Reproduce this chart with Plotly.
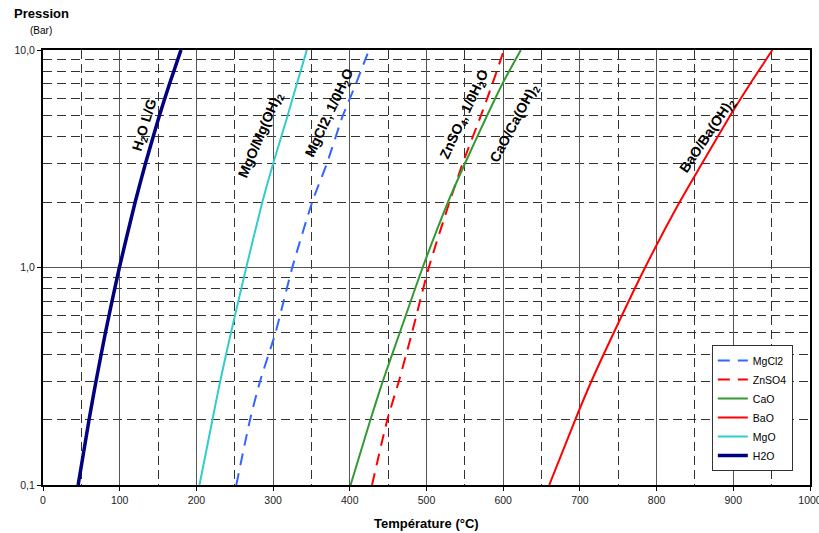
import plotly.graph_objects as go

# Pressure levels (bar)
p_h2o = [0.1, 0.2, 0.3, 0.5, 0.7, 1, 2, 3, 5, 7, 10]
t_h2o = [45.8, 60.1, 69.1, 81.3, 90.0, 99.6, 120.2, 133.5, 151.8, 165.0, 179.9]

p_salt = [0.1, 0.2, 0.3, 0.5, 1, 2, 3, 5, 7, 10]
t_mgo = [204, 221, 231, 245, 265, 286, 300, 319, 331, 344]
t_mgcl2 = [252, 270, 283, 303, 325, 351, 370, 391, 408, 425]
t_znso4 = [429, 449, 464, 481, 503, 530, 547, 571, 586, 601]
t_cao = [401, 427, 443, 465, 495, 528, 550, 579, 599, 623]
t_bao = [660, 694, 715, 744, 785, 830, 859, 896, 922, 951]

x_ticks = list(range(0, 1001, 100))
y_major = [0.1, 1, 10]
y_major_text = ["0,1", "1,0", "10,0"]
y_minor = [0.2, 0.3, 0.4, 0.5, 0.6, 0.7, 0.8, 0.9, 2, 3, 4, 5, 6, 7, 8, 9]
x_minor = list(range(50, 1000, 100))

labels = [
    ("H<sub>2</sub>O L/G", 133, 0.655, -73),
    ("MgO/Mg(OH)<sub>2</sub>", 284, 0.609, -67),
    ("MgCl2, 1/0H<sub>2</sub>O", 374, 0.71, -65),
    ("ZnSO<sub>4</sub>, 1/0H<sub>2</sub>O", 550, 0.706, -65),
    ("CaO/Ca(OH)<sub>2</sub>", 615, 0.664, -62),
    ("BaO/Ba(OH)<sub>2</sub>", 867, 0.609, -56),
]

FONT = "Liberation Sans, Arial, sans-serif"

fig = go.Figure()
fig.add_trace(go.Scatter(x=t_mgcl2, y=p_salt, name="MgCl2", mode="lines",
                         line=dict(color="#3366FF", width=2, dash="12px,8px",
                                   shape="spline", smoothing=0.6)))
fig.add_trace(go.Scatter(x=t_znso4, y=p_salt, name="ZnSO4", mode="lines",
                         line=dict(color="#FF0000", width=2, dash="12px,8px",
                                   shape="spline", smoothing=0.6)))
fig.add_trace(go.Scatter(x=t_cao, y=p_salt, name="CaO", mode="lines",
                         line=dict(color="#339933", width=2, shape="spline", smoothing=0.6)))
fig.add_trace(go.Scatter(x=t_bao, y=p_salt, name="BaO", mode="lines",
                         line=dict(color="#FF0000", width=2, shape="spline", smoothing=0.6)))
fig.add_trace(go.Scatter(x=t_mgo, y=p_salt, name="MgO", mode="lines",
                         line=dict(color="#33CCCC", width=2, shape="spline", smoothing=0.6)))
fig.add_trace(go.Scatter(x=t_h2o, y=p_h2o, name="H2O", mode="lines",
                         line=dict(color="#000080", width=3.5, shape="spline", smoothing=0.6)))

for txt, x, ly, ang in labels:
    fig.add_annotation(x=x, y=ly, xref="x", yref="y", text="<b>%s</b>" % txt,
                       textangle=ang, showarrow=False,
                       font=dict(family=FONT, size=14, color="black"))

fig.add_annotation(x=0, y=1, xref="paper", yref="paper", xshift=-31, yshift=37,
                   xanchor="left", yanchor="middle", text="<b>Pression</b>",
                   showarrow=False, font=dict(family=FONT, size=13, color="black"))
fig.add_annotation(x=0, y=1, xref="paper", yref="paper", xshift=-15, yshift=20,
                   xanchor="left", yanchor="middle", text="(Bar)",
                   showarrow=False, font=dict(family=FONT, size=10, color="black"))
fig.add_annotation(x=0.5, y=0, xref="paper", yref="paper", yshift=-29,
                   xanchor="center", yanchor="top", text="<b>Température (°C)</b>",
                   showarrow=False, font=dict(family=FONT, size=13, color="black"))

fig.update_layout(
    width=819, height=533,
    margin=dict(l=43, r=9, t=50, b=48, autoexpand=False),
    paper_bgcolor="white", plot_bgcolor="white",
    font=dict(family=FONT, size=10.5, color="#222"),
    showlegend=True,
    legend=dict(x=0.872, y=0.322, xanchor="left", yanchor="top",
                bgcolor="white", bordercolor="#333", borderwidth=1,
                font=dict(family=FONT, size=10.5, color="black"),
                tracegroupgap=0, itemwidth=30),
    xaxis=dict(range=[0, 1000], tickvals=x_ticks, ticks="outside", ticklen=4,
               tickcolor="black", showline=True, linecolor="black", linewidth=2,
               mirror=True, showgrid=True, gridcolor="#555", gridwidth=1,
               zeroline=False, automargin=False, ticklabeloverflow="allow",
               minor=dict(tickvals=x_minor, showgrid=True, gridcolor="#333",
                          griddash="9px,5px", gridwidth=1, ticks="")),
    yaxis=dict(type="log", range=[-1, 1], tickvals=y_major, ticktext=y_major_text,
               ticks="outside", ticklen=4, tickcolor="black", showline=True,
               linecolor="black", linewidth=2, mirror=True, showgrid=True,
               gridcolor="#555", gridwidth=1, zeroline=False, automargin=False,
               minor=dict(tickvals=y_minor, showgrid=True, gridcolor="#333",
                          griddash="9px,5px", gridwidth=1, ticks="")),
)

fig.write_html("out.html", config={"displayModeBar": False},
               post_script="document.body.style.margin='0';")
